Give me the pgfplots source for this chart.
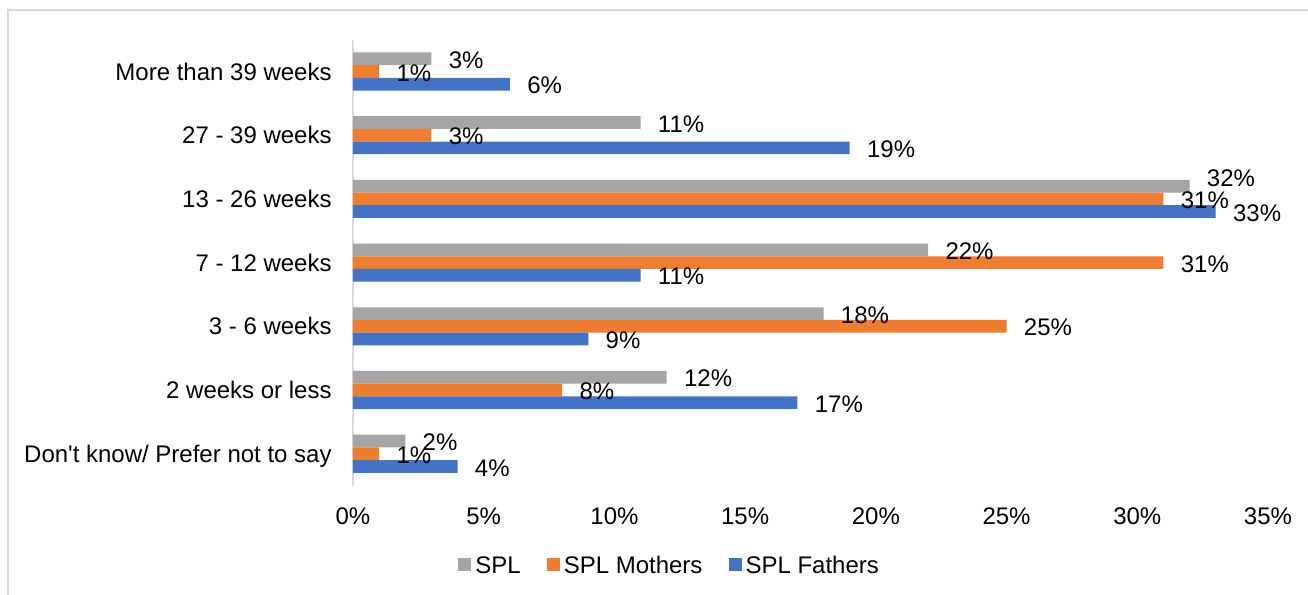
\documentclass[border=0pt]{standalone}
\usepackage{pgfplots}
\pgfplotsset{compat=1.18}
\usepackage{fontspec}
\setmainfont{Liberation Sans}
\definecolor{splgray}{HTML}{A5A5A5}
\definecolor{splorange}{HTML}{ED7D31}
\definecolor{splblue}{HTML}{4472C4}
\definecolor{framegray}{HTML}{D9D9D9}
\begin{document}
\fontsize{12pt}{14pt}\selectfont
\begin{tikzpicture}
\path[use as bounding box] (0pt,0pt) rectangle (654pt,297.5pt);
\draw[framegray, line width=0.6pt] (4pt,0pt) -- (4pt,292.5pt) -- (654pt,292.5pt);
\begin{axis}[
  at={(176.5pt,54.7pt)}, anchor=south west,
  scale only axis, width=457.5pt, height=223pt,
  xbar=0pt, bar width=6.35pt,
  xmin=0, xmax=35, ymin=-0.5, ymax=6.5,
  y dir=reverse,
  xtick={0,5,...,35},
  xticklabel={\pgfmathprintnumber{\tick}\%},
  /pgf/number format/assume math mode=true,
  ytick={0,1,2,3,4,5,6},
  yticklabels={More than 39 weeks, 27 - 39 weeks, 13 - 26 weeks, 7 - 12 weeks, 3 - 6 weeks, 2 weeks or less, Don\textquotesingle t know/ Prefer not to say},
  major tick length=0pt, tick style={draw=none},
  axis x line*=bottom, axis y line*=left,
  x axis line style={draw=none},
  y axis line style={draw=framegray, line width=0.75pt, -},
  xticklabel style={anchor=north, inner sep=0pt, text height=8.6pt, text depth=0pt, yshift=-10.7pt},
  yticklabel style={anchor=east, inner sep=0pt, text height=8.6pt, text depth=0pt, xshift=-10.5pt},
  point meta=explicit symbolic,
  nodes near coords={\pgfplotspointmeta},
  nodes near coords style={anchor=west, inner sep=0pt, xshift=8.5pt, yshift=-0.5pt, text height=8.6pt, text depth=0pt, text=black},
  legend columns=3,
  legend style={at={(0.345,-0.178)}, anchor=center, draw=none, fill=none,
    nodes={inner sep=0pt, text height=8.6pt, text depth=0pt},
    /tikz/every odd column/.append style={column sep=2pt},
    /tikz/every even column/.append style={column sep=13pt}},
  legend image code/.code={\fill[#1] (0pt,-3.25pt) rectangle (6.5pt,3.25pt);},
]
\addplot[fill=splgray, draw=none, bar shift=6.35pt] coordinates {
  (3,0) [3\%] (11,1) [11\%] (32,2) [\raisebox{4.5pt}{32\%}] (22,3) [22\%] (18,4) [18\%] (12,5) [12\%] (2,6) [2\%]};
\addplot[fill=splorange, draw=none, bar shift=0pt] coordinates {
  (1,0) [1\%] (3,1) [3\%] (31,2) [31\%] (31,3) [31\%] (25,4) [25\%] (8,5) [8\%] (1,6) [1\%]};
\addplot[fill=splblue, draw=none, bar shift=-6.35pt] coordinates {
  (6,0) [6\%] (19,1) [19\%] (33,2) [33\%] (11,3) [11\%] (9,4) [9\%] (17,5) [17\%] (4,6) [4\%]};
\legend{SPL, SPL Mothers, SPL Fathers}
\end{axis}
\end{tikzpicture}
\end{document}
